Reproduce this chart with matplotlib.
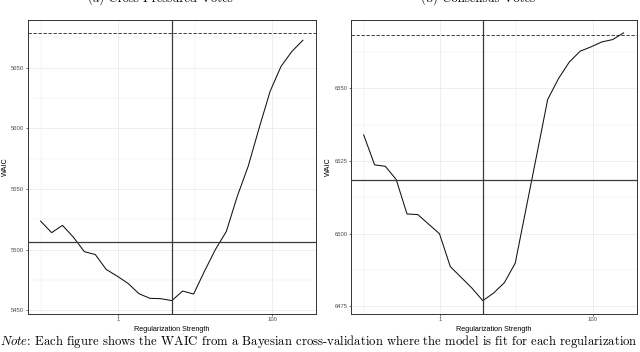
import numpy as np
import matplotlib
matplotlib.use("Agg")
import matplotlib.pyplot as plt

# regularization grid (same for both panels)
reg = [0.1, 0.139, 0.192, 0.266, 0.369, 0.511, 0.708, 0.982, 1.36, 1.885,
       2.61, 3.62, 5.02, 6.95, 9.63, 13.35, 18.5, 25.6, 35.5, 49.2,
       68.2, 94.6, 131.0, 181.6, 251.6]

# (a) cross-pressured votes
waic_a = [5523.5, 5514.0, 5520.0, 5510.3, 5498.3, 5496.0, 5483.7, 5478.2, 5472.2, 5463.7,
          5459.9, 5459.6, 5458.0, 5465.9, 5463.4, 5482.3, 5500.2, 5515.0, 5544.0, 5568.8,
          5600.3, 5630.5, 5651.0, 5663.4, 5672.5]
best_a = 5.02
hline_a = 5506.5
dash_a = 5678.6
yticks_a = [5450, 5500, 5550, 5600, 5650]

# (b) consensus votes
waic_b = [6534.0, 6523.7, 6523.2, 6518.7, 6506.8, 6506.6, 6503.3, 6500.0, 6488.7, 6485.0,
          6481.3, 6477.0, 6479.6, 6483.2, 6489.9, 6508.7, 6527.4, 6546.2, 6553.4, 6559.1,
          6562.8, 6564.3, 6566.0, 6566.8, 6569.1]
best_b = 3.62
hline_b = 6518.5
dash_b = 6568.3
yticks_b = [6475, 6500, 6525, 6550]

xticks = [1, 100]
xticklabels = ["1", "100"]
xminor = [0.1, 10]
titles = ["(a) Cross-Pressured Votes", "(b) Consensus Votes"]
note = (r"$\mathit{Note}$: Each figure shows the WAIC from a Bayesian cross-validation "
        "where the model is fit for each regularization")

plt.rcParams["mathtext.fontset"] = "cm"
sans = "Liberation Sans"
tickcol = "#4d4d4d"
gridcol = "#ebebeb"

fig = plt.figure(figsize=(6.4, 3.52), dpi=100)
ax_a = fig.add_axes([27.5 / 640, 38 / 352, 288.5 / 640, 294.5 / 352])
ax_b = fig.add_axes([350.7 / 640, 38 / 352, 285.8 / 640, 294.5 / 352])


def panel(ax, y, best, hl, dash, yt):
    ax.set_xscale("log")
    ax.plot(reg, y, color="#111111", lw=0.75, zorder=3)
    ax.axvline(best, color="#3a3a3a", lw=0.9, zorder=4)
    ax.axhline(hl, color="#3a3a3a", lw=0.9, zorder=4)
    ax.axhline(dash, color="#222222", lw=0.6, ls=(0, (4, 2)), zorder=4)

    lo, hi = np.log10(min(reg)), np.log10(max(reg))
    p = 0.05 * (hi - lo)
    ax.set_xlim(10 ** (lo - p), 10 ** (hi + p))
    vals = list(y) + [hl, dash]
    ylo, yhi = min(vals), max(vals)
    q = 0.05 * (yhi - ylo)

    ax.set_xticks(xticks)
    ax.set_xticklabels(xticklabels)
    ax.set_xticks(xminor, minor=True)
    ax.set_xticklabels([], minor=True)
    ax.set_yticks(yt)
    step = yt[1] - yt[0]
    ax.set_yticks([v + step / 2 for v in [yt[0] - step] + yt], minor=True)
    ax.set_ylim(ylo - q, yhi + q)

    ax.grid(True, which="major", color=gridcol, lw=0.6, zorder=0)
    ax.grid(True, which="minor", color=gridcol, lw=0.35, zorder=0)
    ax.set_axisbelow(True)
    ax.tick_params(which="major", length=1.5, width=0.5, color="#333333",
                   labelsize=4.2, labelcolor=tickcol, pad=0.8)
    ax.tick_params(which="minor", length=0)
    for lab in ax.get_xticklabels() + ax.get_yticklabels():
        lab.set_fontfamily(sans)
    for s in ax.spines.values():
        s.set_color("#333333")
        s.set_linewidth(0.7)
    ax.set_xlabel("Regularization Strength", fontsize=5.2, family=sans, labelpad=2.5)
    ax.set_ylabel("WAIC", fontsize=5.2, family=sans, labelpad=2.0)


panel(ax_a, waic_a, best_a, hline_a, dash_a, yticks_a)
panel(ax_b, waic_b, best_b, hline_b, dash_b, yticks_b)

fig.text(160 / 640, 1 - 2 / 352, titles[0], ha="center", va="baseline",
         family="cmr10", fontsize=9.2)
fig.text(478 / 640, 1 - 2 / 352, titles[1], ha="center", va="baseline",
         family="cmr10", fontsize=9.2)
fig.text(0.0, 1 - 345 / 352, note, ha="left", va="baseline",
         family="cmr10", fontsize=9.15)

fig.savefig("out.png", dpi=100)
